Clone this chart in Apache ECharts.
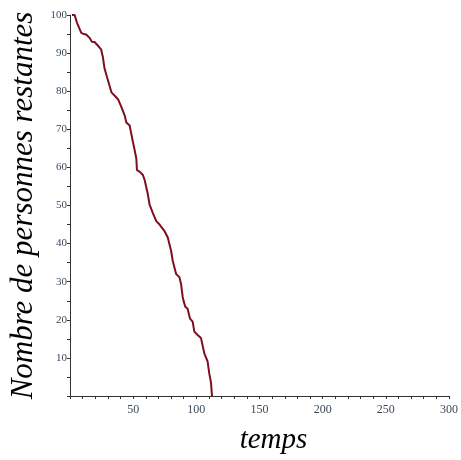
<!DOCTYPE html>
<html>
<head>
<meta charset="utf-8">
<script src="https://cdn.jsdelivr.net/npm/echarts@6/dist/echarts.min.js"></script>
<style>html,body{margin:0;padding:0;background:#fff}#c{width:461px;height:460px}</style>
</head>
<body>
<div id="c"></div>
<script>
// temps (x) and nombre de personnes restantes (y)
const temps = [1.6, 3.7, 5.5, 6.9, 8.9, 11, 12.8, 15.5, 17.3, 19.4, 22, 24.6, 26, 27.3, 29.4, 30.2, 32.8, 35.4, 38, 40.7, 43.3, 44.6, 47.2, 49.8, 51.2, 52.5, 53, 55.1, 57.7, 59.1, 61.7, 63, 65.6, 68.3, 70.9, 72.2, 74.8, 77.4, 80.1, 81.3, 84, 86.6, 87.9, 89.2, 89.8, 91.3, 93.1, 95, 97.1, 98.4, 101, 103.7, 106.3, 108.9, 110.2, 111.6, 112.4];
const restants = [100, 100, 98, 97.5, 95.3, 95, 94.9, 94, 93, 92.9, 92, 91, 89, 86, 83.6, 82.7, 79.7, 78.8, 77.9, 75.8, 73.6, 71.8, 71, 66.7, 64.5, 62.3, 59.3, 58.9, 58, 56.7, 52.8, 50.2, 48, 45.9, 45, 44.6, 43.3, 41.6, 38, 35.5, 32, 31.2, 29.4, 26, 25.1, 23.4, 22.9, 20.3, 19.5, 16.9, 16, 15.2, 11.2, 9.1, 6, 3.5, 0];
const xTicks = [50, 100, 150, 200, 250, 300];
const yTicks = [10, 20, 30, 40, 50, 60, 70, 80, 90, 100];

const chart = echarts.init(document.getElementById('c'));
const labelStyle = {color: '#3b4a5a', fontFamily: 'Liberation Serif, serif', fontSize: 12};
const axisLineStyle = {color: '#333', width: 1};
chart.setOption({
  animation: false,
  grid: {left: 70, right: 10, top: 15, bottom: 60},
  xAxis: {
    type: 'value', min: 0, max: 300, interval: 50,
    name: 'temps', nameLocation: 'middle', nameGap: 30,
    nameTextStyle: {fontFamily: 'Liberation Serif, serif', fontStyle: 'italic', fontSize: 29, color: '#000', padding: [0, 0, 0, 28]},
    axisLine: {show: true, lineStyle: axisLineStyle},
    axisTick: {show: true, inside: false, length: 3, lineStyle: axisLineStyle},
    minorTick: {show: true, splitNumber: 5, length: 3, lineStyle: axisLineStyle},
    axisLabel: Object.assign({margin: 8, formatter: v => xTicks.includes(v) ? String(v) : ''}, labelStyle),
    splitLine: {show: false}
  },
  yAxis: {
    type: 'value', min: 0, max: 100, interval: 10,
    name: 'Nombre de personnes restantes', nameLocation: 'middle', nameGap: 26,
    nameTextStyle: {fontFamily: 'Liberation Serif, serif', fontStyle: 'italic', fontSize: 31, color: '#000'},
    axisLine: {show: true, lineStyle: axisLineStyle},
    axisTick: {show: true, inside: false, length: 3, lineStyle: axisLineStyle},
    minorTick: {show: true, splitNumber: 2, length: 3, lineStyle: axisLineStyle},
    axisLabel: Object.assign({margin: 3, fontSize: 11, formatter: v => yTicks.includes(v) ? String(v) : ''}, {color: labelStyle.color, fontFamily: labelStyle.fontFamily}),
    splitLine: {show: false}
  },
  series: [{
    type: 'line',
    data: temps.map((t, i) => [t, restants[i]]),
    showSymbol: false,
    lineStyle: {color: '#7d0f22', width: 2},
    itemStyle: {color: '#7d0f22'}
  }]
});
</script>
</body>
</html>
